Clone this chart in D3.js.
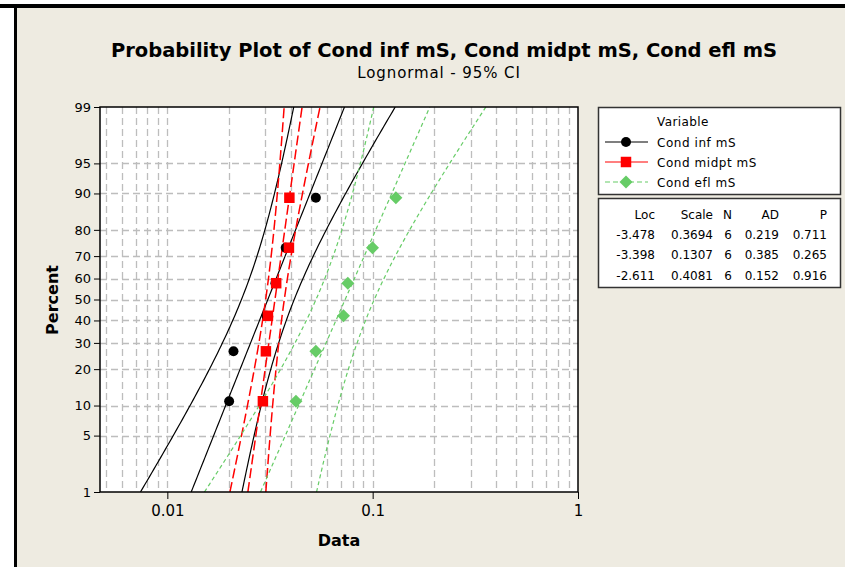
<!DOCTYPE html>
<html>
<head>
<meta charset="utf-8">
<script src="https://cdn.jsdelivr.net/npm/d3@7"></script>
<style>
body{margin:0;background:#fff;}
text{font-family:"DejaVu Sans",sans-serif;fill:#000;}
</style>
</head>
<body>
<svg id="probplot"></svg>
<script>
// values
var variables = ["Cond inf mS","Cond midpt mS","Cond efl mS"];
var percents = [10.94,26.56,42.19,57.81,73.44,89.06];
var condInf = [0.0200,0.0210,0.0304,0.0336,0.0377,0.0529];
var condMidpt = [0.0292,0.0302,0.0309,0.0339,0.0391,0.0393];
var condEfl = [0.0423,0.0529,0.0721,0.0757,0.0998,0.1297];
var locs = [-3.478,-3.398,-2.611];
var scales = [0.3694,0.1307,0.4081];
var ns = [6,6,6];
var ads = [0.219,0.385,0.152];
var pvals = [0.711,0.265,0.916];
var yTicks = [1,5,10,20,30,40,50,60,70,80,90,95,99];
var xTicks = [0.01,0.1,1];

//inverse normal cdf (Acklam), used for the probability axis
var qnorm = function(p)
{
    var a=[-39.6968302866538,220.946098424521,-275.928510446969,138.357751867269,-30.6647980661472,2.50662827745924];
    var b=[-54.4760987982241,161.585836858041,-155.698979859887,66.8013118877197,-13.2806815528857];
    var c=[-0.00778489400243029,-0.322396458041136,-2.40075827716184,-2.54973253934373,4.37466414146497,2.93816398269878];
    var d=[0.00778469570904146,0.32246712907004,2.445134137143,3.75440866190742];
    var q,r;
    if(p<0.02425){
        q=Math.sqrt(-2*Math.log(p));
        return (((((c[0]*q+c[1])*q+c[2])*q+c[3])*q+c[4])*q+c[5])/((((d[0]*q+d[1])*q+d[2])*q+d[3])*q+1);
    }
    if(p>1-0.02425){
        q=Math.sqrt(-2*Math.log(1-p));
        return -(((((c[0]*q+c[1])*q+c[2])*q+c[3])*q+c[4])*q+c[5])/((((d[0]*q+d[1])*q+d[2])*q+d[3])*q+1);
    }
    q=p-0.5; r=q*q;
    return (((((a[0]*r+a[1])*r+a[2])*r+a[3])*r+a[4])*r+a[5])*q/(((((b[0]*r+b[1])*r+b[2])*r+b[3])*r+b[4])*r+1);
}

var screen = {width:845,height:567}
var plot = {left:100,right:578,top:107,bottom:492}

var svg = d3.select("#probplot")
    .attr("width",screen.width)
    .attr("height",screen.height)

//frame
svg.append("rect").attr("x",0).attr("y",0).attr("width",screen.width).attr("height",screen.height).attr("fill","#fff")
svg.append("rect").attr("x",0).attr("y",4).attr("width",screen.width).attr("height",4).attr("fill","#000")
svg.append("rect").attr("x",14).attr("y",4).attr("width",3).attr("height",screen.height).attr("fill","#000")
svg.append("rect").attr("x",17).attr("y",8).attr("width",screen.width-17).attr("height",screen.height-8).attr("fill","#EEEBE1")

var xScale = d3.scaleLog()
    .domain([0.0047,1])
    .range([plot.left,plot.right])

var yScale = d3.scaleLinear()
    .domain([qnorm(0.01),qnorm(0.99)])
    .range([plot.bottom,plot.top])

svg.append("rect")
    .attr("x",plot.left).attr("y",plot.top)
    .attr("width",plot.right-plot.left).attr("height",plot.bottom-plot.top)
    .attr("fill","#fff")

svg.append("clipPath").attr("id","clip")
    .append("rect")
    .attr("x",plot.left).attr("y",plot.top)
    .attr("width",plot.right-plot.left).attr("height",plot.bottom-plot.top)

//grid
var grid = svg.append("g").attr("stroke","#BDBDBD").attr("stroke-width",1.3).attr("stroke-dasharray","7,4")
grid.selectAll(".vg")
    .data(xScale.ticks().filter(function(d){return d<1}))
    .enter().append("line")
    .attr("x1",function(d){return Math.round(xScale(d))+0.5})
    .attr("x2",function(d){return Math.round(xScale(d))+0.5})
    .attr("y1",plot.top).attr("y2",plot.bottom)
grid.selectAll(".hg")
    .data(yTicks.filter(function(d){return d>1&&d<99}))
    .enter().append("line")
    .attr("y1",function(d){return Math.round(yScale(qnorm(d/100)))+0.5})
    .attr("y2",function(d){return Math.round(yScale(qnorm(d/100)))+0.5})
    .attr("x1",plot.left).attr("x2",plot.right)

//fit lines and 95% CI from Loc / Scale
var series = [
    {name:variables[0],values:condInf,color:"#000",dash:null,shape:"circle"},
    {name:variables[1],values:condMidpt,color:"#FF0000",dash:"10,4",shape:"square"},
    {name:variables[2],values:condEfl,color:"#66CC66",dash:"4,3",shape:"diamond"}
]
var zs = d3.range(0,101).map(function(i){return yScale.domain()[0]+(yScale.domain()[1]-yScale.domain()[0])*i/100})
var line = d3.line()
    .x(function(d){return xScale(Math.exp(d[0]))})
    .y(function(d){return yScale(d[1])})

var lines = svg.append("g").attr("clip-path","url(#clip)")
series.forEach(function(s,i)
{
    [-1,0,1].forEach(function(side)
    {
        var pts = zs.map(function(z){
            var hw = 1.96*scales[i]*Math.sqrt(1/ns[i]+z*z/(2*ns[i]))
            return [locs[i]+z*scales[i]+side*hw, z]
        })
        lines.append("path")
            .attr("d",line(pts))
            .attr("fill","none")
            .attr("stroke",s.color)
            .attr("stroke-width",s.shape=="square"?1.5:1.2)
            .attr("stroke-dasharray",s.dash)
    })
})

var symbolPath = function(shape)
{
    if(shape=="circle") return d3.symbol(d3.symbolCircle,78)()
    if(shape=="square") return d3.symbol(d3.symbolSquare,110)()
    return "M0,-6.5L6.5,0L0,6.5L-6.5,0Z"
}

series.forEach(function(s)
{
    svg.append("g").selectAll("path")
        .data(s.values)
        .enter().append("path")
        .attr("d",symbolPath(s.shape))
        .attr("fill",s.color)
        .attr("transform",function(d,j){return "translate("+xScale(d)+","+yScale(qnorm(percents[j]/100))+")"})
})

//axes
var yAxis = d3.axisLeft(yScale)
    .tickValues(yTicks.map(function(p){return qnorm(p/100)}))
    .tickFormat(function(d,i){return yTicks[i]})
    .tickSize(6).tickPadding(3)
var xAxis = d3.axisBottom(xScale)
    .tickValues(xTicks)
    .tickFormat(d3.format("~g"))
    .tickSize(7).tickPadding(6)

var ya = svg.append("g").attr("transform","translate("+plot.left+",0)").call(yAxis)
ya.select(".domain").remove()
ya.selectAll("text").attr("font-size",13).attr("font-family","DejaVu Sans").attr("fill","#222")
ya.selectAll("line").attr("stroke","#000")

var xa = svg.append("g").attr("transform","translate(0,"+plot.bottom+")").call(xAxis)
xa.select(".domain").remove()
xa.selectAll("text").attr("font-size",15).attr("font-family","DejaVu Sans").attr("fill","#222")
xa.selectAll("line").attr("stroke","#000")

svg.append("rect")
    .attr("x",plot.left).attr("y",plot.top)
    .attr("width",plot.right-plot.left).attr("height",plot.bottom-plot.top)
    .attr("fill","none").attr("stroke","#000").attr("stroke-width",1.5)

//labels
svg.append("text")
    .text("Probability Plot of Cond inf mS, Cond midpt mS, Cond efl mS")
    .attr("x",444).attr("y",57)
    .attr("text-anchor","middle")
    .attr("font-size",19.5).attr("font-weight","bold")
svg.append("text")
    .text("Lognormal - 95% CI")
    .attr("x",439).attr("y",78)
    .attr("text-anchor","middle")
    .attr("font-size",15).attr("letter-spacing",0.9)
svg.append("text")
    .text("Data")
    .attr("x",339).attr("y",546)
    .attr("text-anchor","middle")
    .attr("font-size",16).attr("font-weight","bold")
svg.append("g")
    .attr("transform","translate(58,300)")
    .append("text")
    .text("Percent")
    .attr("text-anchor","middle")
    .attr("transform","rotate(270)")
    .attr("font-size",16).attr("font-weight","bold")

//legend
var legend = svg.append("g")
legend.append("rect")
    .attr("x",598.5).attr("y",107.5).attr("width",242).attr("height",87)
    .attr("fill","#fff").attr("stroke","#333").attr("stroke-width",1.5)
legend.append("text").text("Variable").attr("x",657).attr("y",126).attr("font-size",12).attr("letter-spacing",0.4)
var entries = legend.selectAll(".entry")
    .data(series)
    .enter().append("g")
    .attr("transform",function(d,i){return "translate(0,"+(142+i*20)+")"})
entries.append("line")
    .attr("x1",605).attr("x2",648).attr("y1",0).attr("y2",0)
    .attr("stroke",function(d){return d.color})
    .attr("stroke-width",1.2)
    .attr("stroke-dasharray",function(d){return d.shape=="diamond"?"5,3":null})
entries.append("path")
    .attr("d",function(d){return symbolPath(d.shape)})
    .attr("fill",function(d){return d.color})
    .attr("transform","translate(626,0)")
entries.append("text")
    .text(function(d){return d.name})
    .attr("x",657).attr("y",4.5)
    .attr("font-size",12).attr("letter-spacing",0.55)

//stats table
var stats = svg.append("g")
stats.append("rect")
    .attr("x",598.5).attr("y",198.5).attr("width",242).attr("height",89)
    .attr("fill","#fff").attr("stroke","#333").attr("stroke-width",1.5)
var cols = [
    {head:"Loc",x:655,vals:locs.map(d3.format(".3f"))},
    {head:"Scale",x:713,vals:scales.map(d3.format(".4f"))},
    {head:"N",x:732,vals:ns.map(String)},
    {head:"AD",x:779,vals:ads.map(d3.format(".3f"))},
    {head:"P",x:827,vals:pvals.map(d3.format(".3f"))}
]
cols.forEach(function(c)
{
    stats.append("text").text(c.head).attr("x",c.x).attr("y",219)
        .attr("text-anchor","end").attr("font-size",12)
    c.vals.forEach(function(v,i)
    {
        stats.append("text").text(v.replace("\u2212","-")).attr("x",c.x).attr("y",239+i*20.3)
            .attr("text-anchor","end").attr("font-size",12)
    })
})
</script>
</body>
</html>
